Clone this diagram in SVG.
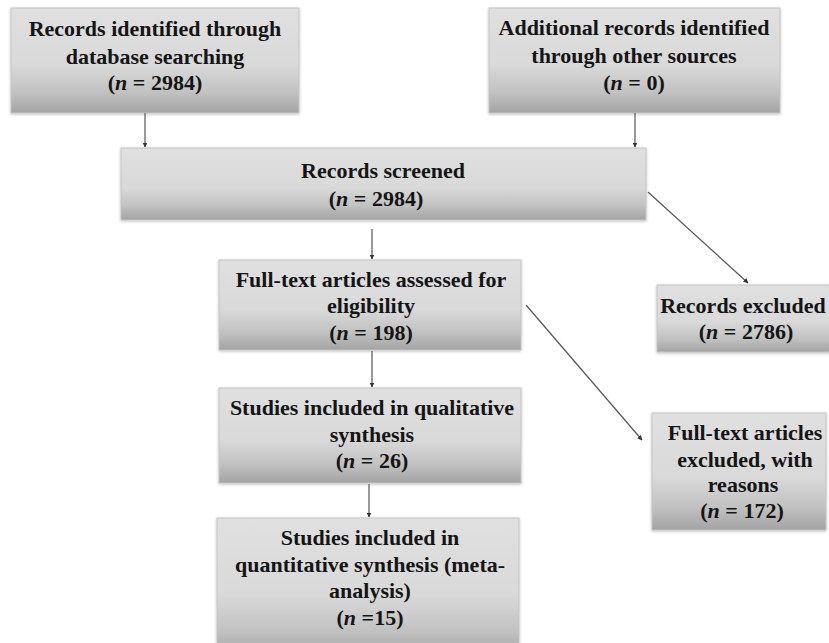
<svg xmlns="http://www.w3.org/2000/svg" width="829" height="643" viewBox="0 0 829 643">
<style>
  .box { fill: url(#g); stroke: #c4c4c4; stroke-width: 1; filter: url(#sh); }
  text { font-family: "Liberation Serif", "Times New Roman", serif; font-weight: bold; font-size: 22px; fill: #151515; text-anchor: middle; }
  .it { font-style: italic; }
  .conn line { stroke: #555; stroke-width: 1.2; marker-end: url(#ah); }
</style>
<defs>
  <linearGradient id="g" x1="0" y1="0" x2="0" y2="1">
    <stop offset="0" stop-color="#e0e0e0"/>
    <stop offset="0.55" stop-color="#d9d9d9"/>
    <stop offset="0.8" stop-color="#c2c2c2"/>
    <stop offset="1" stop-color="#a3a3a3"/>
  </linearGradient>
  <filter id="sh" x="-5%" y="-5%" width="110%" height="115%">
    <feGaussianBlur in="SourceAlpha" stdDeviation="1.5"/>
    <feOffset dx="0" dy="1" result="b"/>
    <feComponentTransfer><feFuncA type="linear" slope="0.25"/></feComponentTransfer>
    <feMerge><feMergeNode/><feMergeNode in="SourceGraphic"/></feMerge>
  </filter>
  <marker id="ah" viewBox="0 0 10 10" refX="9" refY="5" markerWidth="5" markerHeight="5" orient="auto" markerUnits="userSpaceOnUse">
    <path d="M0,0 L10,5 L0,10 z" fill="#333"/>
  </marker>
</defs>
<rect width="829" height="643" fill="#ffffff"/>

<g id="n1">
  <rect class="box" x="11" y="8" width="288" height="105"/>
  <text x="155" y="36">Records identified through</text>
  <text x="155" y="64">database searching</text>
  <text x="155" y="90">(<tspan class="it">n</tspan> = 2984)</text>
</g>
<g id="n2">
  <rect class="box" x="489" y="8" width="291" height="105"/>
  <text x="634" y="35">Additional records identified</text>
  <text x="634" y="63">through other sources</text>
  <text x="634" y="90">(<tspan class="it">n</tspan> = 0)</text>
</g>
<g id="n3">
  <rect class="box" x="121" y="148" width="525" height="72"/>
  <text x="383" y="178">Records screened</text>
  <text x="376" y="206">(<tspan class="it">n</tspan> = 2984)</text>
</g>
<g id="n4">
  <rect class="box" x="219" y="260" width="302" height="90"/>
  <text x="371" y="287">Full-text articles assessed for</text>
  <text x="371" y="313">eligibility</text>
  <text x="371" y="340">(<tspan class="it">n</tspan> = 198)</text>
</g>
<g id="n5">
  <rect class="box" x="657" y="285" width="190" height="67"/>
  <text x="743" y="313">Records excluded</text>
  <text x="746" y="339">(<tspan class="it">n</tspan> = 2786)</text>
</g>
<g id="n6">
  <rect class="box" x="219" y="388" width="302" height="95"/>
  <text x="372" y="415">Studies included in qualitative</text>
  <text x="372" y="442">synthesis</text>
  <text x="372" y="468">(<tspan class="it">n</tspan> = 26)</text>
</g>
<g id="n7">
  <rect class="box" x="217" y="518" width="302" height="140"/>
  <text x="370" y="545">Studies included in</text>
  <text x="370" y="572">quantitative synthesis (meta-</text>
  <text x="370" y="598">analysis)</text>
  <text x="370" y="625">(<tspan class="it">n</tspan> =15)</text>
</g>
<g id="n8">
  <rect class="box" x="652" y="413" width="174" height="117"/>
  <text x="745" y="440">Full-text articles</text>
  <text x="745" y="467">excluded, with</text>
  <text x="743" y="492">reasons</text>
  <text x="742" y="518">(<tspan class="it">n</tspan> = 172)</text>
</g>

<g id="connectors" class="conn">
  <line x1="145" y1="113" x2="145" y2="147"/>
  <line x1="635" y1="113" x2="635" y2="147"/>
  <line x1="372" y1="229" x2="372" y2="259"/>
  <line x1="372" y1="351" x2="372" y2="387"/>
  <line x1="369" y1="484" x2="369" y2="517"/>
  <line x1="648" y1="192" x2="748" y2="283"/>
  <line x1="526" y1="305" x2="642" y2="440"/>
</g>
</svg>
